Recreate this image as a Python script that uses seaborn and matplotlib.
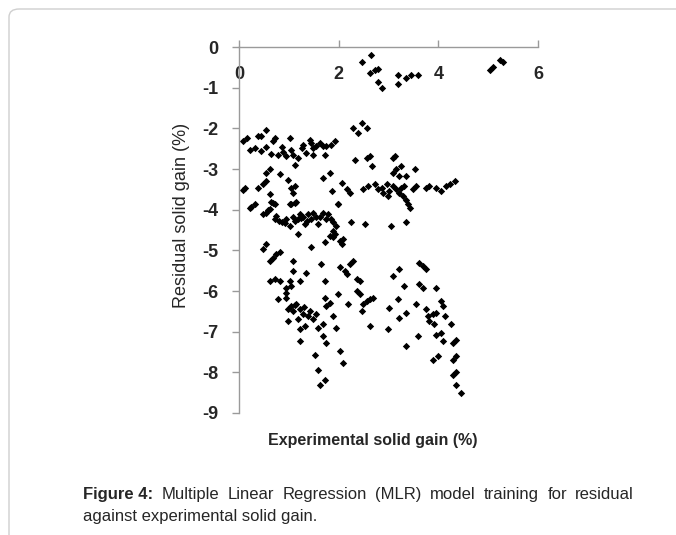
import matplotlib
matplotlib.use("Agg")
import matplotlib.pyplot as plt
from matplotlib.patches import FancyBboxPatch
import seaborn as sns
import pandas as pd

# experimental solid gain (%) vs residual solid gain (%)
exp_gain = [
    2.46, 2.64, 2.63, 2.72, 2.78, 2.78, 2.86, 3.19, 3.19, 3.36, 3.46, 3.60,
    5.03, 5.10, 5.23, 5.30,
    0.09, 0.17, 0.22, 0.32, 0.39, 0.54, 0.45, 0.45, 0.55, 0.69, 0.72, 0.65,
    0.79, 0.86, 0.89, 0.95, 1.02, 1.05, 1.09, 1.12, 1.19, 1.26, 1.29, 1.35,
    1.42, 1.45, 1.49, 1.49, 1.55, 1.62, 1.69, 1.72, 1.75, 1.84, 1.92,
    2.29, 2.39, 2.46, 2.56,
    2.32, 2.56, 2.63, 2.66, 3.09, 3.13, 3.09, 3.16, 3.26, 3.22, 3.36, 3.53,
    1.69, 1.82, 2.06, 1.86, 2.22, 2.16, 2.49, 2.59, 2.72, 2.79, 2.86, 2.96,
    2.89, 2.99, 3.02, 3.09, 3.16, 3.22, 3.26, 3.29, 3.36, 3.39, 3.43, 3.32,
    3.49, 3.56, 3.76, 3.82, 3.96, 4.06, 4.16, 4.23, 4.33,
    0.12, 0.09, 0.39, 0.49, 0.55, 0.55, 0.62, 0.62, 0.82, 0.99, 1.05, 1.09,
    1.12, 0.22, 0.32, 0.55, 0.62, 0.69, 0.72, 1.02, 1.12, 1.99,
    0.25, 0.49, 0.59, 0.65, 0.72, 0.75, 0.86, 0.95, 1.02, 1.05, 1.15, 1.09,
    1.19, 1.22, 1.29, 1.32, 1.39, 1.45, 1.49, 1.55, 1.59, 1.69, 1.75, 1.79,
    1.85, 1.89, 1.95, 1.99, 1.89, 1.92, 1.89, 2.25, 2.52, 3.06, 3.36, 1.19,
    1.45, 1.72, 1.82, 2.02, 2.06, 2.09, 0.80, 0.92, 1.12, 1.25, 1.36, 1.62,
    0.49, 0.55, 0.62, 0.69, 0.75, 0.82, 1.09, 1.09, 1.35, 1.65, 1.72, 2.02,
    2.12, 2.16, 2.22, 2.29, 2.36, 2.42, 3.09, 3.22, 3.62, 3.69, 3.76, 3.32,
    3.62, 3.69, 3.96, 0.62, 0.72, 0.82, 1.02, 1.22, 0.95, 1.05, 0.95, 0.95,
    0.79, 1.72, 1.99, 2.19, 2.36, 2.42, 2.49, 2.56, 2.62, 2.69, 2.46, 3.02,
    3.19, 3.36, 3.22, 3.56, 3.76, 3.79, 3.89, 3.96, 4.06, 4.09, 4.13, 3.82,
    3.92, 4.26, 3.96, 4.06, 4.09, 4.29, 4.36, 3.59, 3.36, 3.89, 3.99, 4.29,
    4.36, 4.29, 4.36, 4.36, 4.46, 2.99, 2.62,
    0.99, 1.05, 1.09, 1.15, 1.22, 1.29, 0.99, 1.19, 1.39, 1.49, 1.55, 1.22,
    1.32, 1.22, 1.59, 1.69, 1.75, 1.82, 1.89, 1.95, 1.69, 1.75, 2.02, 2.09,
    1.52, 1.59, 1.72, 1.62, 1.30, 1.42, 1.12,
]
resid_gain = [
    -0.37, -0.20, -0.65, -0.57, -0.53, -0.85, -1.02, -0.69, -0.90, -0.76, -0.68, -0.68,
    -0.57, -0.50, -0.31, -0.37,
    -2.32, -2.24, -2.54, -2.49, -2.18, -2.04, -2.18, -2.56, -2.45, -2.32, -2.24, -2.63,
    -2.66, -2.45, -2.57, -2.69, -2.24, -2.53, -2.65, -2.89, -2.73, -2.48, -2.40, -2.61,
    -2.28, -2.36, -2.48, -2.65, -2.44, -2.36, -2.44, -2.65, -2.44, -2.40, -2.32,
    -2.00, -2.12, -1.87, -2.00,
    -2.77, -2.73, -2.69, -2.93, -2.73, -2.69, -3.09, -3.01, -2.93, -3.18, -3.18, -3.01,
    -3.22, -3.09, -3.34, -3.54, -3.60, -3.50, -3.50, -3.42, -3.38, -3.50, -3.46, -3.38,
    -3.58, -3.66, -3.54, -3.42, -3.50, -3.58, -3.46, -3.66, -3.75, -3.87, -3.95, -3.42,
    -3.50, -3.42, -3.46, -3.42, -3.46, -3.54, -3.42, -3.38, -3.30,
    -3.46, -3.52, -3.46, -3.38, -3.30, -3.09, -3.01, -3.62, -3.13, -3.26, -3.46, -3.58,
    -3.42, -3.95, -3.87, -4.07, -3.99, -3.83, -3.87, -3.87, -3.83, -3.87,
    -3.94, -4.11, -4.02, -3.82, -4.23, -4.15, -4.31, -4.23, -4.39, -3.86, -3.82, -4.19,
    -4.23, -4.11, -4.19, -4.35, -4.11, -4.23, -4.07, -4.19, -4.35, -4.07, -4.23, -4.11,
    -4.23, -4.31, -4.39, -3.86, -4.52, -4.60, -4.68, -4.31, -4.35, -4.39, -4.31, -4.60,
    -4.93, -4.80, -4.64, -4.76, -4.85, -4.72, -4.27, -4.33, -4.27, -4.20, -4.27, -4.17,
    -4.97, -4.85, -5.26, -5.18, -5.09, -5.04, -5.26, -5.50, -5.55, -5.34, -5.75, -5.42,
    -5.50, -5.59, -5.34, -5.26, -5.71, -5.75, -5.63, -5.46, -5.30, -5.38, -5.46, -5.88,
    -5.84, -5.92, -5.92, -5.75, -5.71, -5.75, -5.75, -5.75, -5.92, -5.88, -6.04, -6.16,
    -6.20, -6.16, -6.08, -6.33, -6.00, -6.08, -6.33, -6.25, -6.20, -6.16, -6.49, -6.41,
    -6.20, -6.53, -6.66, -6.33, -6.45, -6.62, -6.57, -6.53, -6.25, -6.37, -6.62, -6.74,
    -6.82, -6.82, -7.07, -7.03, -7.24, -7.28, -7.20, -7.11, -7.36, -7.69, -7.60, -7.69,
    -7.60, -8.06, -7.98, -8.31, -8.52, -6.94, -6.86,
    -6.45, -6.37, -6.49, -6.33, -6.45, -6.57, -6.74, -6.70, -6.62, -6.70, -6.57, -6.94,
    -6.86, -7.24, -6.90, -6.82, -6.37, -6.29, -6.62, -6.90, -7.11, -7.28, -7.48, -7.77,
    -7.57, -7.94, -8.19, -8.31, -6.40, -6.50, -6.35,
]

x_ticks = [0, 2, 4, 6]
y_ticks = [0, -1, -2, -3, -4, -5, -6, -7, -8, -9]

caption_line1 = "Multiple Linear Regression (MLR) model training for residual"
caption_line2 = "against experimental solid gain."

df = pd.DataFrame({"exp": exp_gain, "resid": resid_gain})

sns.set_style("white")
plt.rcParams["font.family"] = ["Liberation Sans", "DejaVu Sans"]
plt.rcParams["axes.unicode_minus"] = False

fig = plt.figure(figsize=(6.76, 5.35), dpi=100)
ax = fig.add_axes([239 / 676, 122 / 535, 299 / 676, 366 / 535])

sns.scatterplot(data=df, x="exp", y="resid", ax=ax, marker="D", s=14,
                color="black", edgecolor=None, linewidth=0, clip_on=False)

ax.set_xlim(0, 6)
ax.set_ylim(-9, 0)
ax.set_xticks(x_ticks)
ax.set_yticks(y_ticks)

axis_grey = "#9a9a9a"
for side in ["bottom", "right"]:
    ax.spines[side].set_visible(False)
for side in ["left", "top"]:
    ax.spines[side].set_color(axis_grey)
    ax.spines[side].set_linewidth(1.0)

ax.tick_params(axis="y", left=True, direction="out", length=5, width=1,
               color=axis_grey, pad=10, labelsize=13)
ax.tick_params(axis="x", top=True, bottom=False, labeltop=True, labelbottom=False,
               direction="out", length=5, width=1, color=axis_grey, pad=-31,
               labelsize=13)
for lab in ax.get_xticklabels() + ax.get_yticklabels():
    lab.set_fontweight("bold")

ax.set_xlabel("Experimental solid gain (%)", fontsize=11.5, fontweight="bold")
ax.set_ylabel("Residual solid gain (%)", fontsize=13)
ax.xaxis.set_label_position("bottom")
ax.xaxis.set_label_coords(0.448, -0.055)
ax.yaxis.set_label_coords(-0.165, 0.54)

# caption, first line justified between the left and right margins
left_px, right_px = 83, 634
y1 = 1 - 499 / 535
y2 = 1 - 521 / 535
fig.canvas.draw()
renderer = fig.canvas.get_renderer()
words = [("Figure 4:", "bold")] + [(w, "normal") for w in caption_line1.split()]
texts = []
total_w = 0
for w, weight in words:
    t = fig.text(0, y1, w, fontsize=12, fontweight=weight, va="baseline", ha="left")
    bw = t.get_window_extent(renderer).width
    texts.append((t, bw))
    total_w += bw
gap = (right_px - left_px - total_w) / (len(words) - 1)
cur = left_px
for t, bw in texts:
    t.set_x(cur / 676)
    cur += bw + gap
fig.text(left_px / 676, y2, caption_line2, fontsize=12, va="baseline", ha="left")

# light frame around the figure panel
frame = FancyBboxPatch((9 / 676, -0.1), 1.2, 1.1 - 9 / 535,
                       boxstyle="round,pad=0,rounding_size=0.015",
                       transform=fig.transFigure, fill=False,
                       edgecolor="#cfcfcf", linewidth=1.0)
fig.patches.append(frame)

fig.savefig("out.png", dpi=100)
